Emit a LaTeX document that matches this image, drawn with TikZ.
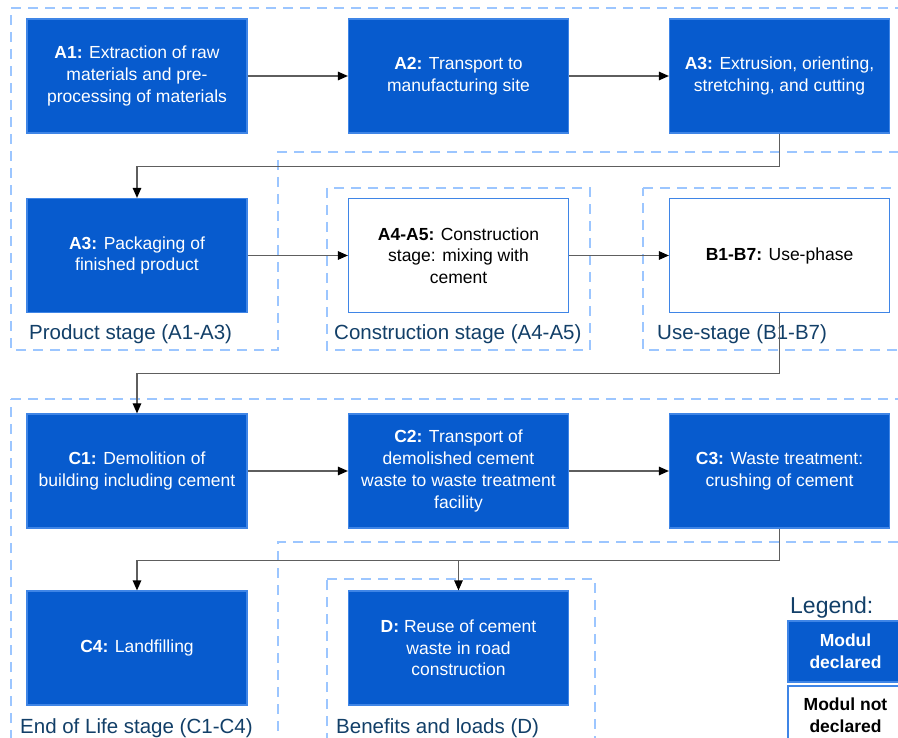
\documentclass[tikz,border=0pt]{standalone}
\usepackage{fontspec}
\setmainfont{Liberation Sans}
\usetikzlibrary{arrows.meta}
\definecolor{boxblue}{HTML}{075BCE}
\definecolor{boxedge}{HTML}{3F85E6}
\definecolor{dashblue}{HTML}{9CC6FF}
\definecolor{labelnavy}{HTML}{123F68}
\definecolor{linkgray}{HTML}{5E5E5E}
\tikzset{
  declared/.style={draw=boxedge, line width=1.2pt, fill=boxblue, text=white,
    minimum width=220pt, minimum height=114pt, align=center, inner sep=0pt,
    font=\fontsize{17.5}{21.7}\selectfont},
  notdeclared/.style={declared, fill=white, text=black},
  group/.style={draw=dashblue, line width=2.2pt, dash pattern=on 10pt off 7pt},
  grouplabel/.style={anchor=base west, text=labelnavy, inner sep=0pt,
    font=\fontsize{20.5}{24}\selectfont},
  link/.style={draw=linkgray, line width=1.2pt,
    -{Triangle[length=10pt,width=8.5pt,color=black]}},
  legendbox/.style={draw=boxedge, line width=1.2pt, fill=boxblue, text=white,
    minimum width=115pt, minimum height=61pt, align=center, inner sep=0pt,
    font=\fontsize{17.5}{21.7}\selectfont\bfseries}
}
\begin{document}
\begin{tikzpicture}[x=1pt, y=-1pt]
\useasboundingbox (0,0) rectangle (898,738);
\fill[white] (0,0) rectangle (898,738);

% dashed group outlines
\draw[group] (11,8) -- (910,8) -- (910,152) -- (278,152) -- (278,350) -- (11,350) -- cycle;
\draw[group] (327,188) rectangle (590,350);
\draw[group] (643,188) -- (910,188) -- (910,350) -- (643,350) -- cycle;
\draw[group] (11,399) -- (910,399) -- (910,542) -- (278,542) -- (278,750) -- (11,750) -- cycle;
\draw[group] (327,579) -- (595,579) -- (595,750) -- (327,750) -- cycle;

% group labels
\node[grouplabel] (lprod) at (29,339.5) {Product stage (A1-A3)};
\node[grouplabel] (lcons) at (334,339.5) {Construction stage (A4-A5)};
\node[grouplabel] (luse) at (657,339.5) {Use-stage (B1-B7)};
\node[grouplabel] (leol) at (20,733) {End of Life stage (C1-C4)};
\node[grouplabel] (lben) at (336,733) {Benefits and loads (D)};

% modules
\node[declared] (a1) at (137,76) {\textbf{A1:} Extraction of raw\\materials and pre-\\processing of materials};
\node[declared] (a2) at (458.5,76) {\textbf{A2:} Transport to\\manufacturing site};
\node[declared] (a3x) at (779.5,76) {\textbf{A3:} Extrusion, orienting,\\stretching, and cutting};
\node[declared] (a3p) at (137,255.5) {\textbf{A3:} Packaging of\\finished product};
\node[notdeclared] (a45) at (458.5,255.5) {\textbf{A4-A5:} Construction\\stage: mixing with\\cement};
\node[notdeclared] (b17) at (779.5,255.5) {\textbf{B1-B7:} Use-phase};
\node[declared] (c1) at (137,471) {\textbf{C1:} Demolition of\\building including cement};
\node[declared] (c2) at (458.5,471) {\textbf{C2:} Transport of\\demolished cement\\waste to waste treatment\\facility};
\node[declared] (c3) at (779.5,471) {\textbf{C3:} Waste treatment:\\crushing of cement};
\node[declared] (c4) at (137,648) {\textbf{C4:} Landfilling};
\node[declared] (d) at (458.5,648) {\textbf{D:} Reuse of cement\\waste in road\\construction};

% connectors
\draw[link] (a1) -- (a2);
\draw[link] (a2) -- (a3x);
\draw[link] (a3x.south) -- ++(0,33) -| (a3p.north);
\draw[link] (a3p) -- (a45);
\draw[link] (a45) -- (b17);
\draw[link] (b17.south) -- ++(0,60.5) -| (c1.north);
\draw[link] (c1) -- (c2);
\draw[link] (c2) -- (c3);
\draw[link] (c3.south) -- ++(0,32) coordinate (split) -| (c4.north);
\draw[link] (split -| d.north) -- (d.north);

% legend
\node[anchor=base west, text=labelnavy, inner sep=0pt, font=\fontsize{23}{27}\selectfont] (legtitle) at (790,613) {Legend:};
\node[legendbox] (legdec) at (845.5,651.5) {Modul\\declared};
\node[legendbox, fill=white, text=black, minimum height=58pt] (legnot) at (845.5,715) {Modul not\\declared};
\end{tikzpicture}
\end{document}
